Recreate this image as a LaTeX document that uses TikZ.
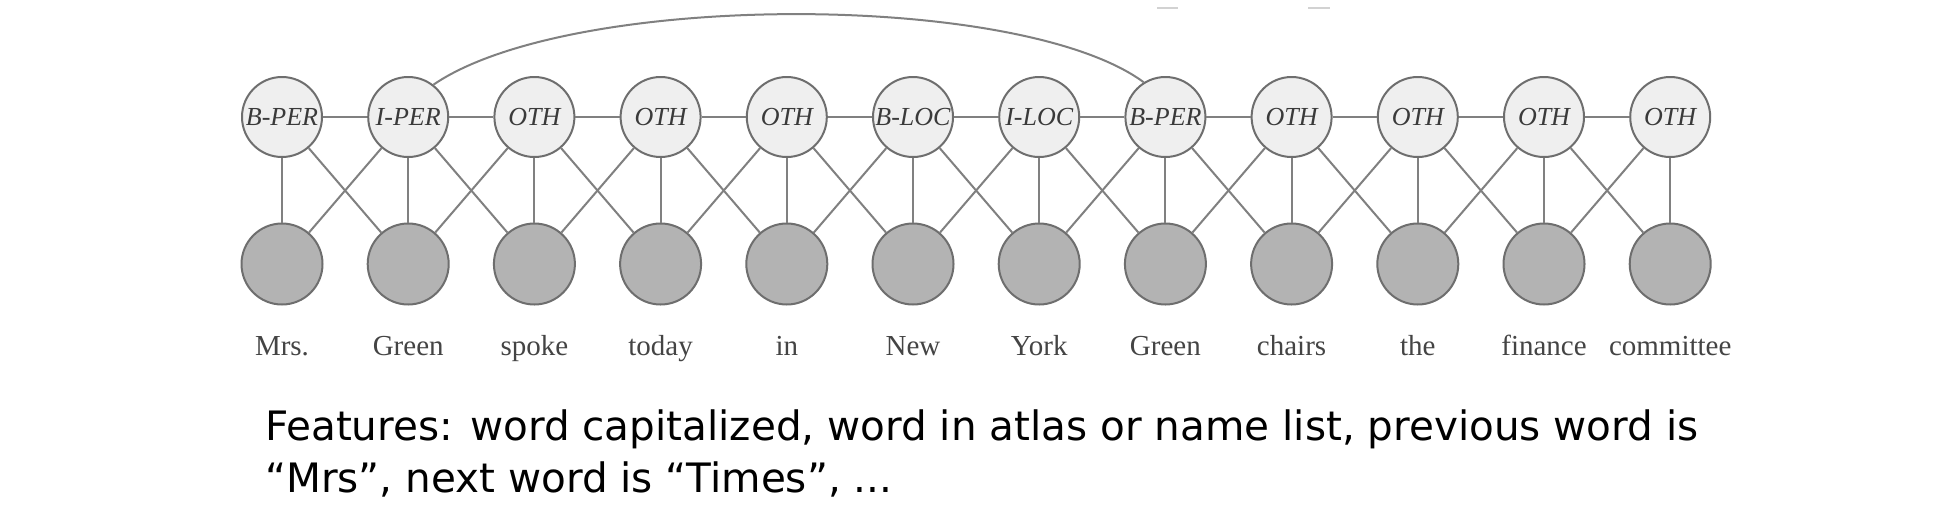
\documentclass[tikz,border=0pt]{standalone}
\usepackage{fontspec}
\setmainfont{Liberation Serif}
\newfontfamily\featfont{DejaVu Sans}
\definecolor{tagfill}{HTML}{EFEFEF}
\definecolor{obsfill}{HTML}{B3B3B3}
\definecolor{edgecol}{HTML}{808080}
\definecolor{circcol}{HTML}{6E6E6E}
\definecolor{txtcol}{HTML}{444444}
\definecolor{tagtxt}{HTML}{3A3A3A}
\begin{document}
\begin{tikzpicture}[x=1pt,y=-1pt,
  tagnode/.style={circle, draw=circcol, fill=tagfill, line width=2pt, minimum size=80pt, inner sep=0pt, font=\fontsize{26}{26}\selectfont\itshape, text=tagtxt},
  obsnode/.style={circle, draw=circcol, fill=obsfill, line width=2pt, minimum size=81pt, inner sep=0pt},
  wordlabel/.style={anchor=base, font=\fontsize{29}{29}\selectfont, text=txtcol},
  link/.style={draw=edgecol, line width=2pt},
  featline/.style={anchor=base west, font=\featfont\fontsize{40.5}{52}\selectfont, text=black, inner sep=0pt}]
\useasboundingbox[fill=white] (0,0) rectangle (1950,520);
% faint marks at top
\draw[gray!35, line width=2pt] (1157,8) -- (1178,8);
\draw[gray!35, line width=2pt] (1308,8) -- (1330,8);
\foreach \t [count=\i from 0] in {B-PER,I-PER,OTH,OTH,OTH,B-LOC,I-LOC,B-PER,OTH,OTH,OTH,OTH} {
  \node[tagnode] (t\i) at ({282+126.2*\i},117) {\t};
  \node[obsnode] (o\i) at ({282+126.2*\i},264) {};
}
\foreach \w [count=\i from 0] in {Mrs.,Green,spoke,today,in,New,York,Green,chairs,the,finance,committee} {
  \node[wordlabel] (w\i) at ({282+126.2*\i},355) {\w};
}
\foreach \i in {0,...,11} {
  \draw[link] (t\i) -- (o\i);
}
\foreach \i in {0,...,10} {
  \pgfmathtruncatemacro{\j}{\i+1}
  \draw[link] (t\i) -- (t\j);
  \draw[link] (t\i) -- (o\j);
  \draw[link] (t\j) -- (o\i);
}
\draw[link] (t1.52) .. controls (570,-9) and (1020,-9) .. (t7.122);
\node[featline] (feat1) at (265,440) {Features: word capitalized, word in atlas or name list, previous word is};
\node[featline] (feat2) at (265,492) {“Mrs”, next word is “Times”, ...};
\end{tikzpicture}
\end{document}
